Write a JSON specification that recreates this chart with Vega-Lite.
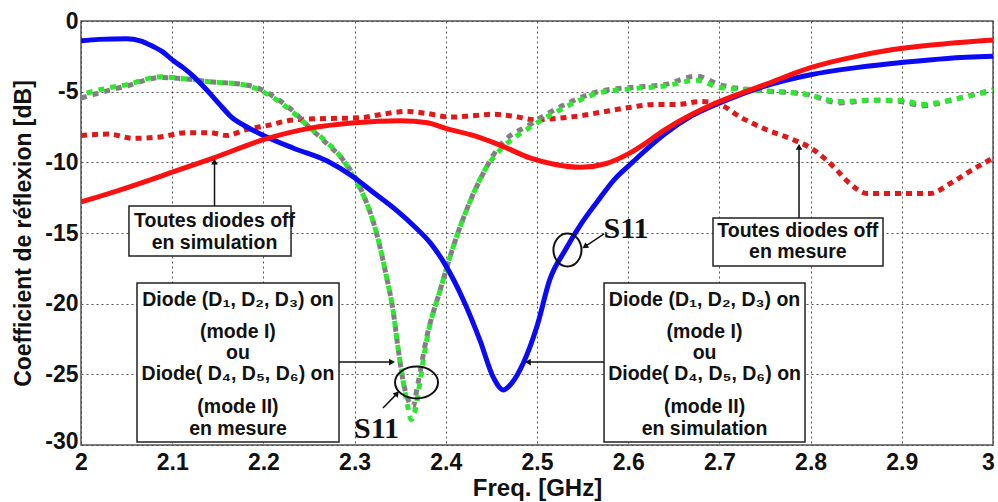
{
  "$schema": "https://vega.github.io/schema/vega-lite/v6.json",
  "width": 912,
  "height": 424,
  "autosize": {"type": "none"},
  "padding": {"left": 81, "top": 21, "right": 5, "bottom": 57},
  "background": "white",
  "config": {
    "view": {"stroke": "#555", "strokeWidth": 1.5},
    "font": "Liberation Sans"
  },
  "datasets": {
    "blue": [
      {"f": 2.000, "db": -1.4}, {"f": 2.020, "db": -1.3}, {"f": 2.050, "db": -1.25}, {"f": 2.065, "db": -1.4},
      {"f": 2.079, "db": -1.8}, {"f": 2.090, "db": -2.2}, {"f": 2.101, "db": -2.8}, {"f": 2.112, "db": -3.3},
      {"f": 2.123, "db": -3.9}, {"f": 2.141, "db": -5.1}, {"f": 2.152, "db": -5.9}, {"f": 2.165, "db": -6.8},
      {"f": 2.182, "db": -7.5}, {"f": 2.200, "db": -8.1}, {"f": 2.233, "db": -9.0}, {"f": 2.270, "db": -9.9},
      {"f": 2.298, "db": -11.0}, {"f": 2.320, "db": -12.1}, {"f": 2.346, "db": -13.4}, {"f": 2.365, "db": -14.5},
      {"f": 2.383, "db": -15.7}, {"f": 2.399, "db": -17.2}, {"f": 2.419, "db": -19.7}, {"f": 2.4375, "db": -22.6},
      {"f": 2.452, "db": -25.2}, {"f": 2.463, "db": -26.1}, {"f": 2.4726, "db": -25.6}, {"f": 2.485, "db": -24.2},
      {"f": 2.500, "db": -21.6}, {"f": 2.514, "db": -18.3}, {"f": 2.531, "db": -16.2}, {"f": 2.550, "db": -14.2},
      {"f": 2.567, "db": -12.7}, {"f": 2.585, "db": -11.2}, {"f": 2.603, "db": -10.1}, {"f": 2.613, "db": -9.5},
      {"f": 2.640, "db": -8.0}, {"f": 2.670, "db": -6.7}, {"f": 2.700, "db": -5.8}, {"f": 2.750, "db": -4.6},
      {"f": 2.800, "db": -3.8}, {"f": 2.850, "db": -3.3}, {"f": 2.905, "db": -2.9}, {"f": 2.950, "db": -2.65},
      {"f": 3.000, "db": -2.5}
    ],
    "red": [
      {"f": 2.000, "db": -12.8}, {"f": 2.050, "db": -11.8}, {"f": 2.100, "db": -10.7}, {"f": 2.145, "db": -9.7},
      {"f": 2.200, "db": -8.4}, {"f": 2.250, "db": -7.6}, {"f": 2.300, "db": -7.2}, {"f": 2.350, "db": -7.05},
      {"f": 2.380, "db": -7.2}, {"f": 2.400, "db": -7.6}, {"f": 2.430, "db": -8.1}, {"f": 2.460, "db": -8.8},
      {"f": 2.493, "db": -9.7}, {"f": 2.520, "db": -10.15}, {"f": 2.548, "db": -10.35}, {"f": 2.575, "db": -10.1},
      {"f": 2.600, "db": -9.4}, {"f": 2.613, "db": -8.9}, {"f": 2.640, "db": -7.7}, {"f": 2.670, "db": -6.6},
      {"f": 2.700, "db": -5.7}, {"f": 2.750, "db": -4.5}, {"f": 2.800, "db": -3.3}, {"f": 2.850, "db": -2.5},
      {"f": 2.905, "db": -1.9}, {"f": 2.950, "db": -1.6}, {"f": 3.000, "db": -1.35}
    ],
    "redDot": [
      {"f": 2.000, "db": -8.1}, {"f": 2.030, "db": -8.0}, {"f": 2.057, "db": -8.3}, {"f": 2.087, "db": -8.2},
      {"f": 2.116, "db": -7.9}, {"f": 2.141, "db": -7.9}, {"f": 2.160, "db": -8.1}, {"f": 2.180, "db": -7.7},
      {"f": 2.204, "db": -7.4}, {"f": 2.233, "db": -7.0}, {"f": 2.270, "db": -6.9}, {"f": 2.306, "db": -6.85},
      {"f": 2.330, "db": -6.6}, {"f": 2.357, "db": -6.4}, {"f": 2.380, "db": -6.55}, {"f": 2.405, "db": -6.8},
      {"f": 2.430, "db": -6.7}, {"f": 2.452, "db": -6.6}, {"f": 2.470, "db": -6.7}, {"f": 2.501, "db": -7.0},
      {"f": 2.520, "db": -6.9}, {"f": 2.548, "db": -6.7}, {"f": 2.575, "db": -6.4}, {"f": 2.603, "db": -6.1},
      {"f": 2.630, "db": -5.9}, {"f": 2.655, "db": -5.9}, {"f": 2.679, "db": -5.7}, {"f": 2.700, "db": -5.9},
      {"f": 2.723, "db": -6.8}, {"f": 2.752, "db": -7.7}, {"f": 2.781, "db": -8.4}, {"f": 2.803, "db": -9.1},
      {"f": 2.825, "db": -10.3}, {"f": 2.843, "db": -11.5}, {"f": 2.862, "db": -12.2}, {"f": 2.905, "db": -12.2},
      {"f": 2.931, "db": -12.2}, {"f": 2.953, "db": -11.5}, {"f": 2.978, "db": -10.5}, {"f": 3.000, "db": -9.7}
    ],
    "green": [
      {"f": 2.000, "db": -5.2}, {"f": 2.025, "db": -4.8}, {"f": 2.050, "db": -4.5}, {"f": 2.087, "db": -3.95},
      {"f": 2.116, "db": -4.1}, {"f": 2.141, "db": -4.3}, {"f": 2.178, "db": -4.5}, {"f": 2.196, "db": -4.9},
      {"f": 2.215, "db": -5.6}, {"f": 2.233, "db": -6.5}, {"f": 2.250, "db": -7.5}, {"f": 2.270, "db": -8.6},
      {"f": 2.287, "db": -9.8}, {"f": 2.300, "db": -11.2}, {"f": 2.310, "db": -12.4}, {"f": 2.324, "db": -15.0},
      {"f": 2.335, "db": -18.1}, {"f": 2.342, "db": -20.4}, {"f": 2.348, "db": -23.3}, {"f": 2.353, "db": -25.4},
      {"f": 2.358, "db": -27.2}, {"f": 2.362, "db": -28.2}, {"f": 2.367, "db": -27.4}, {"f": 2.372, "db": -25.4},
      {"f": 2.379, "db": -22.6}, {"f": 2.394, "db": -19.0}, {"f": 2.408, "db": -16.0}, {"f": 2.427, "db": -12.7},
      {"f": 2.445, "db": -10.3}, {"f": 2.460, "db": -9.1}, {"f": 2.493, "db": -7.5}, {"f": 2.531, "db": -6.1},
      {"f": 2.567, "db": -5.1}, {"f": 2.603, "db": -4.8}, {"f": 2.640, "db": -4.6}, {"f": 2.675, "db": -4.2},
      {"f": 2.700, "db": -4.7}, {"f": 2.741, "db": -4.9}, {"f": 2.796, "db": -5.2}, {"f": 2.832, "db": -5.7},
      {"f": 2.869, "db": -5.6}, {"f": 2.898, "db": -5.6}, {"f": 2.923, "db": -5.9}, {"f": 2.960, "db": -5.5},
      {"f": 3.000, "db": -4.9}
    ],
    "gray": [
      {"f": 2.000, "db": -5.45}, {"f": 2.025, "db": -5.0}, {"f": 2.050, "db": -4.6}, {"f": 2.087, "db": -4.0},
      {"f": 2.116, "db": -4.1}, {"f": 2.141, "db": -4.3}, {"f": 2.178, "db": -4.5}, {"f": 2.196, "db": -4.8},
      {"f": 2.215, "db": -5.5}, {"f": 2.233, "db": -6.4}, {"f": 2.250, "db": -7.5}, {"f": 2.270, "db": -8.7},
      {"f": 2.287, "db": -9.8}, {"f": 2.309, "db": -12.2}, {"f": 2.324, "db": -15.0}, {"f": 2.335, "db": -18.1},
      {"f": 2.342, "db": -20.4}, {"f": 2.348, "db": -23.3}, {"f": 2.353, "db": -25.4}, {"f": 2.360, "db": -27.0},
      {"f": 2.364, "db": -27.3}, {"f": 2.369, "db": -25.8}, {"f": 2.379, "db": -22.4}, {"f": 2.394, "db": -19.0},
      {"f": 2.408, "db": -16.0}, {"f": 2.427, "db": -12.7}, {"f": 2.445, "db": -10.3}, {"f": 2.456, "db": -9.1},
      {"f": 2.493, "db": -7.3}, {"f": 2.531, "db": -5.9}, {"f": 2.567, "db": -5.0}, {"f": 2.603, "db": -4.7},
      {"f": 2.640, "db": -4.5}, {"f": 2.675, "db": -3.9}, {"f": 2.700, "db": -4.5}, {"f": 2.741, "db": -4.9},
      {"f": 2.796, "db": -5.2}, {"f": 2.832, "db": -5.8}, {"f": 2.869, "db": -5.6}, {"f": 2.898, "db": -5.7},
      {"f": 2.923, "db": -6.0}, {"f": 2.960, "db": -5.5}, {"f": 3.000, "db": -4.85}
    ],
    "boxes": [
      {"f": 2.0526, "f2": 2.2303, "db": -13.09, "db2": -16.63},
      {"f": 2.693, "f2": 2.8794, "db": -13.94, "db2": -17.33},
      {"f": 2.0614, "f2": 2.2829, "db": -18.54, "db2": -29.79},
      {"f": 2.5735, "f2": 2.7939, "db": -18.54, "db2": -29.79}
    ],
    "labels": [
      {"f": 2.1464, "db": -14.58, "t": "Toutes diodes off"},
      {"f": 2.1464, "db": -16.13, "t": "en simulation"},
      {"f": 2.786, "db": -15.28, "t": "Toutes diodes off"},
      {"f": 2.786, "db": -16.77, "t": "en mesure"},
      {"f": 2.1721, "db": -20.17, "t": "Diode (D₁, D₂, D₃) on"},
      {"f": 2.1721, "db": -22.43, "t": "(mode I)"},
      {"f": 2.1721, "db": -23.92, "t": "ou"},
      {"f": 2.1721, "db": -25.40, "t": "Diode( D₄, D₅, D₆) on"},
      {"f": 2.1721, "db": -27.74, "t": "(mode II)"},
      {"f": 2.1721, "db": -29.29, "t": "en mesure"},
      {"f": 2.6837, "db": -20.17, "t": "Diode (D₁, D₂, D₃) on"},
      {"f": 2.6837, "db": -22.43, "t": "(mode I)"},
      {"f": 2.6837, "db": -23.92, "t": "ou"},
      {"f": 2.6837, "db": -25.40, "t": "Diode( D₄, D₅, D₆) on"},
      {"f": 2.6837, "db": -27.74, "t": "(mode II)"},
      {"f": 2.6837, "db": -29.29, "t": "en simulation"}
    ],
    "arrows": [
      {"f": 2.1464, "db": -13.09, "f2": 2.1464, "db2": -9.9},
      {"f": 2.7873, "db": -13.94, "f2": 2.7873, "db2": -8.85},
      {"f": 2.2829, "db": -24.13, "f2": 2.340, "db2": -24.13},
      {"f": 2.5735, "db": -24.13, "f2": 2.491, "db2": -24.13},
      {"f": 2.5735, "db": -15.07, "f2": 2.5525, "db2": -15.97},
      {"f": 2.3311, "db": -27.38, "f2": 2.346, "db2": -26.4}
    ]
  },
  "encoding": {
    "x": {
      "field": "f", "type": "quantitative",
      "scale": {"domain": [2, 3], "nice": false, "zero": false},
      "axis": {
        "values": [2, 2.1, 2.2, 2.3, 2.4, 2.5, 2.6, 2.7, 2.8, 2.9, 3],
        "labelExpr": "'' + datum.value",
        "title": "Freq. [GHz]",
        "titleFontSize": 24, "titleFontWeight": "bold", "titleColor": "#111",
        "titleY": 43, "titleBaseline": "middle",
        "labelFontSize": 23, "labelFontWeight": "bold", "labelColor": "#111",
        "labelPadding": 6, "labelOverlap": false, "labelFlush": false,
        "labelOffset": {"condition": {"test": "datum.value === 3", "value": -5}, "value": 0},
        "ticks": false, "domain": false,
        "grid": true, "gridColor": "#444", "gridDash": [2, 3], "gridWidth": 1, "gridOpacity": 0.9
      }
    },
    "y": {
      "field": "db", "type": "quantitative",
      "scale": {"domain": [-30, 0], "nice": false, "zero": false},
      "axis": {
        "values": [-30, -25, -20, -15, -10, -5, 0],
        "labelExpr": "'' + datum.value",
        "title": "Coefficient de réflexion [dB]",
        "titleFontSize": 23, "titleFontWeight": "bold", "titleColor": "#111",
        "titleX": -58, "titleY": 212, "titleAlign": "center", "titleBaseline": "middle", "titleAngle": -90,
        "labelFontSize": 23, "labelFontWeight": "bold", "labelColor": "#111",
        "labelPadding": 3, "labelOverlap": false, "labelFlush": false,
        "labelOffset": {"condition": {"test": "datum.value === -30", "value": -4}, "value": 0},
        "ticks": false, "domain": false,
        "grid": true, "gridColor": "#444", "gridDash": [2, 3], "gridWidth": 1, "gridOpacity": 0.9
      }
    }
  },
  "layer": [
    {"data": {"name": "redDot"}, "mark": {"type": "line", "color": "#e01818", "strokeWidth": 5, "strokeDash": [6, 5], "strokeCap": "butt", "interpolate": "monotone", "clip": true}},
    {"data": {"name": "gray"}, "mark": {"type": "line", "color": "#808080", "strokeWidth": 5, "strokeDash": [6, 6], "strokeCap": "butt", "interpolate": "monotone", "clip": true}},
    {"data": {"name": "green"}, "mark": {"type": "line", "color": "#2ee82e", "strokeWidth": 5, "strokeDash": [6, 6], "strokeDashOffset": 6, "strokeCap": "butt", "interpolate": "monotone", "clip": true}},
    {"data": {"name": "blue"}, "mark": {"type": "line", "color": "#0a0af5", "strokeWidth": 5, "interpolate": "monotone", "clip": true}},
    {"data": {"name": "red"}, "mark": {"type": "line", "color": "#ff1010", "strokeWidth": 5, "interpolate": "monotone", "clip": true}},
    {
      "data": {"values": [{"f": 2.4, "f2": 2.487}]},
      "mark": {"type": "rect", "color": "#b0b0b0", "opacity": 0.38},
      "encoding": {
        "x": {"field": "f", "type": "quantitative"},
        "x2": {"field": "f2"},
        "y": {"datum": 0, "type": "quantitative"},
        "y2": {"datum": -30}
      }
    },
    {
      "data": {"name": "boxes"},
      "mark": {"type": "rect", "fill": "white", "stroke": "#222", "strokeWidth": 1.5},
      "encoding": {
        "x": {"field": "f", "type": "quantitative"},
        "x2": {"field": "f2"},
        "y": {"field": "db", "type": "quantitative"},
        "y2": {"field": "db2"}
      }
    },
    {
      "data": {"name": "labels"},
      "mark": {"type": "text", "font": "Liberation Sans", "fontSize": 19.5, "fontWeight": "bold", "color": "#111", "align": "center", "baseline": "alphabetic"},
      "encoding": {"text": {"field": "t"}}
    },
    {
      "data": {"name": "arrows"},
      "mark": {"type": "rule", "color": "#111", "strokeWidth": 1.5},
      "encoding": {
        "x": {"field": "f", "type": "quantitative"},
        "y": {"field": "db", "type": "quantitative"},
        "x2": {"field": "f2"},
        "y2": {"field": "db2"}
      }
    },
    {
      "data": {"values": [{"f": 2.1464, "db": -9.95}, {"f": 2.7873, "db": -8.9}]},
      "mark": {"type": "point", "shape": "triangle-up", "filled": true, "color": "#111", "size": 45, "opacity": 1, "angle": 0}
    },
    {
      "data": {"values": [{"f": 2.341, "db": -24.13}]},
      "mark": {"type": "point", "shape": "triangle-up", "filled": true, "color": "#111", "size": 45, "opacity": 1, "angle": 90}
    },
    {
      "data": {"values": [{"f": 2.490, "db": -24.13}]},
      "mark": {"type": "point", "shape": "triangle-up", "filled": true, "color": "#111", "size": 45, "opacity": 1, "angle": 270}
    },
    {
      "data": {"values": [{"f": 2.5525, "db": -15.97}]},
      "mark": {"type": "point", "shape": "triangle-up", "filled": true, "color": "#111", "size": 45, "opacity": 1, "angle": 236}
    },
    {
      "data": {"values": [{"f": 2.3465, "db": -26.35}]},
      "mark": {"type": "point", "shape": "triangle-up", "filled": true, "color": "#111", "size": 45, "opacity": 1, "angle": 39}
    },
    {
      "data": {"values": [{"f": 2.5334, "db": -16.2}]},
      "mark": {"type": "point", "shape": "M-0.85,0A0.85,1,0,1,0,0.85,0A0.85,1,0,1,0,-0.85,0Z", "filled": false, "stroke": "#111", "strokeWidth": 2, "size": 1089, "opacity": 1}
    },
    {
      "data": {"values": [{"f": 2.3679, "db": -25.58}]},
      "mark": {"type": "point", "shape": "M-1,0A1,0.74,0,1,0,1,0A1,0.74,0,1,0,-1,0Z", "filled": false, "stroke": "#111", "strokeWidth": 2, "size": 1849, "opacity": 1}
    },
    {
      "data": {"values": [{"f": 2.5976, "db": -15.35, "t": "S11"}, {"f": 2.324, "db": -29.5, "t": "S11"}]},
      "mark": {"type": "text", "font": "Liberation Serif", "fontSize": 30, "fontWeight": "bold", "color": "#111", "align": "center", "baseline": "alphabetic"},
      "encoding": {"text": {"field": "t"}}
    }
  ]
}
